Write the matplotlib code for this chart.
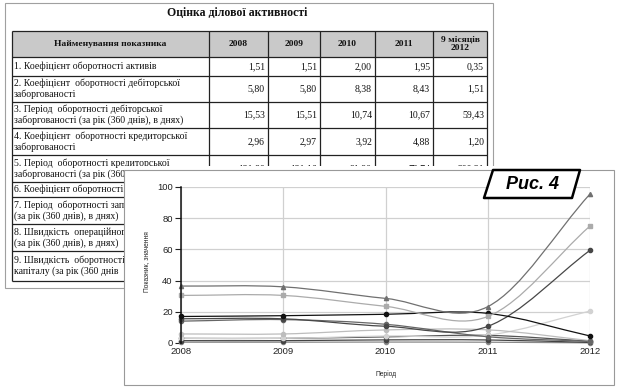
import numpy as np
import matplotlib
matplotlib.use("Agg")
import matplotlib.pyplot as plt
from matplotlib.patches import Rectangle, Polygon, PathPatch
from matplotlib.path import Path

# -----------------------------
# Дані таблиці
# -----------------------------
table_title = "Оцінка ділової активності"
header_labels = ["Найменування показника", "2008", "2009", "2010", "2011", "9 місяців\n2012"]
# рядки 8-9 частково закриті графіком, тому підписи обрізані як на рисунку
row_labels = [
    "1. Коефіцієнт оборотності активів",
    "2. Коефіцієнт  оборотності дебіторської\nзаборгованості",
    "3. Період  оборотності дебіторської\nзаборгованості (за рік (360 днів), в днях)",
    "4. Коефіцієнт  оборотності кредиторської\nзаборгованості",
    "5. Період  оборотності кредиторської\nзаборгованості (за рік (360 днів), в днях)",
    "6. Коефіцієнт оборотності запасів",
    "7. Період  оборотності запасів\n(за рік (360 днів), в днях)",
    "8. Швидкість  операційного\n(за рік (360 днів), в днях)",
    "9. Швидкість  оборотності\nкапіталу (за рік (360 днів",
]
turnover_assets = [1.51, 1.51, 2.00, 1.95, 0.35]
turnover_receivables = [5.80, 5.80, 8.38, 8.43, 1.51]
period_receivables = [15.53, 15.51, 10.74, 10.67, 59.43]
turnover_payables = [2.96, 2.97, 3.92, 4.88, 1.20]
period_payables = [121.80, 121.16, 91.90, 73.74, 300.21]

# -----------------------------
# Дані графіка (оцінено з рисунка)
# -----------------------------
years = [2008, 2009, 2010, 2011, 2012]
curve_a = [36.5, 36.0, 28.6, 23.3, 95.5]
curve_b = [30.5, 30.5, 23.5, 17.0, 75.0]
curve_c = [17.0, 17.5, 18.4, 19.0, 4.5]
curve_f = [14.0, 15.0, 12.0, 4.0, 1.0]
curve_g = [3.0, 3.0, 4.5, 5.0, 20.5]
curve_h = [0.5, 0.5, 0.6, 0.5, 0.1]

# -----------------------------
# Розмітка (пікселі)
# -----------------------------
W, H = 619, 392
col_edges = [12, 209, 268, 320, 375, 433, 487]
row_edges = [31, 57, 76, 102, 128, 155, 182, 197, 224, 251, 281]
serif = ["Liberation Serif", "DejaVu Serif"]
sans = ["Liberation Sans", "DejaVu Sans"]


def fmt(v):
    return f"{v:.2f}".replace(".", ",")


def smooth_path(xs, ys):
    # Catmull-Rom -> кубічні Безьє
    xs = np.asarray(xs, float)
    ys = np.asarray(ys, float)
    n = len(xs)
    m = np.zeros(n)
    m[0] = (ys[1] - ys[0]) / (xs[1] - xs[0])
    m[-1] = (ys[-1] - ys[-2]) / (xs[-1] - xs[-2])
    for i in range(1, n - 1):
        m[i] = (ys[i + 1] - ys[i - 1]) / (xs[i + 1] - xs[i - 1])
    verts = [(xs[0], ys[0])]
    codes = [Path.MOVETO]
    for i in range(n - 1):
        dx = xs[i + 1] - xs[i]
        verts += [(xs[i] + dx / 3, ys[i] + m[i] * dx / 3),
                  (xs[i + 1] - dx / 3, ys[i + 1] - m[i + 1] * dx / 3),
                  (xs[i + 1], ys[i + 1])]
        codes += [Path.CURVE4] * 3
    return Path(verts, codes)


fig = plt.figure(figsize=(W / 100, H / 100), dpi=100)
fig.patch.set_facecolor("white")

# -----------------------------
# Таблиця
# -----------------------------
bg = fig.add_axes([0, 0, 1, 1])
bg.set_xlim(0, W)
bg.set_ylim(H, 0)
bg.axis("off")

# область таблиці, не закрита графіком
visible = Rectangle((0, 0), 124, H, transform=bg.transData)
visible_top = Rectangle((0, 0), W, 166, transform=bg.transData)

bg.add_patch(Rectangle((5, 3), 488, 285, fill=False, edgecolor="#a0a0a0", lw=0.8))
bg.text(237, 13, table_title, family=serif, weight="bold", fontsize=8.5,
        ha="center", va="center", color="#111")

bg.add_patch(Rectangle((col_edges[0], row_edges[0]), col_edges[-1] - col_edges[0],
                       row_edges[1] - row_edges[0], facecolor="#c9c9c9", edgecolor="none"))
bg.hlines(row_edges, col_edges[0], col_edges[-1], color="#222", lw=0.9)
bg.vlines(col_edges, row_edges[0], row_edges[-1], color="#222", lw=0.9)

for j, lab in enumerate(header_labels):
    cx = (col_edges[j] + col_edges[j + 1]) / 2
    cy = (row_edges[0] + row_edges[1]) / 2
    bg.text(cx, cy, lab, family=serif, weight="bold", fontsize=6.8,
            ha="center", va="center", linespacing=1.05, color="#111")

table_rows = [turnover_assets, turnover_receivables, period_receivables,
              turnover_payables, period_payables]
for i, lab in enumerate(row_labels):
    top, bot = row_edges[i + 1], row_edges[i + 2]
    cy = (top + bot) / 2
    t = bg.text(14, cy, lab, family=serif, fontsize=7, ha="left", va="center",
                linespacing=1.2, color="#111")
    if i >= 4:
        t.set_clip_path(visible)
    if i < len(table_rows):
        for j, v in enumerate(table_rows[i]):
            tv = bg.text(col_edges[j + 2] - 3, cy, fmt(v), family=serif, fontsize=7,
                         ha="right", va="center", color="#111")
            if i >= 4:
                tv.set_clip_path(visible_top)

# рамка графіка поверх таблиці
bg.add_patch(Rectangle((124, 166), 490, 219, facecolor="white",
                       edgecolor="none", zorder=10))
bg.add_patch(Rectangle((124, 170), 490, 215, fill=False,
                       edgecolor="#999999", lw=0.8, zorder=11))

# -----------------------------
# Графік
# -----------------------------
ax = fig.add_axes([181 / W, (H - 343) / H, 409 / W, 156 / H])
ax.set_facecolor("none")
ax.set_xlim(2008, 2012)
ax.set_ylim(0, 100)
ax.set_xticks(years)
ax.set_xticklabels([str(y) for y in years])
ax.set_yticks([0, 20, 40, 60, 80, 100])
ax.grid(True, color="#d0d0d0", lw=0.9)
ax.set_axisbelow(True)
for s in ["top", "right", "bottom"]:
    ax.spines[s].set_visible(False)
ax.spines["left"].set_color("#111")
ax.spines["left"].set_linewidth(1.1)
ax.tick_params(axis="x", length=0, pad=3, labelsize=6.8, colors="#222")
ax.tick_params(axis="y", length=4.5, width=0.8, pad=1.5, labelsize=6.8, colors="#222")
for t in ax.get_xticklabels() + ax.get_yticklabels():
    t.set_family(sans)

series = [
    (curve_h, "#8a8a8a", "o"),
    (turnover_assets, "#444444", "o"),
    (turnover_payables, "#555555", "o"),
    (curve_g, "#d2d2d2", "o"),
    (turnover_receivables, "#bdbdbd", "o"),
    (curve_f, "#666666", "o"),
    (period_receivables, "#474747", "o"),
    (curve_c, "#111111", "o"),
    (curve_b, "#ababab", "s"),
    (curve_a, "#707070", "^"),
]
for vals, col, mk in series:
    ax.add_patch(PathPatch(smooth_path(years, vals), fill=False, edgecolor=col,
                           lw=0.9, clip_on=False))
    ax.plot(years, vals, linestyle="none", marker=mk, markersize=3,
            color=col, clip_on=False)

ax.set_ylabel("Показник, значення", family=sans, fontsize=4.8, color="#222")
ax.yaxis.set_label_coords(-0.076, 0.52)
ax.set_xlabel("Період", family=sans, fontsize=4.8, color="#222")
ax.xaxis.set_label_coords(0.501, -0.173)

# -----------------------------
# Підпис "Рис. 4"
# -----------------------------
ov = fig.add_axes([0, 0, 1, 1])
ov.set_xlim(0, W)
ov.set_ylim(H, 0)
ov.axis("off")
ov.patch.set_alpha(0)
ov.add_patch(Polygon([(493, 170), (580, 170), (572, 198), (484, 198)], closed=True,
                     facecolor="white", edgecolor="black", lw=1.8, joinstyle="round"))
ov.text(532, 184.5, "Рис. 4", family=sans, weight="bold", style="italic",
        fontsize=13, ha="center", va="center", color="black")

fig.savefig("out.png", dpi=100)
